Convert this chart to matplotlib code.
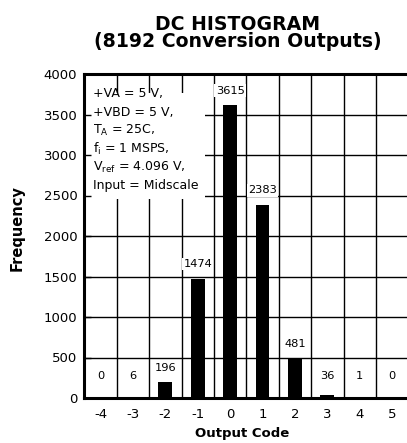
import matplotlib
matplotlib.use("Agg")
import matplotlib.pyplot as plt
from matplotlib.patches import Rectangle

codes = [-4, -3, -2, -1, 0, 1, 2, 3, 4, 5]
counts = [0, 6, 196, 1474, 3615, 2383, 481, 36, 1, 0]
yticks = [0, 500, 1000, 1500, 2000, 2500, 3000, 3500, 4000]
title_lines = ["DC HISTOGRAM", "(8192 Conversion Outputs)"]
info_lines = [
    "+VA = 5 V,",
    "+VBD = 5 V,",
    r"T$_\mathregular{A}$ = 25C,",
    r"f$_\mathregular{i}$ = 1 MSPS,",
    r"V$_\mathregular{ref}$ = 4.096 V,",
    "Input = Midscale",
]

plt.rcParams['font.family'] = ['DejaVu Sans']

fig = plt.figure(figsize=(4.07, 4.43), dpi=100)
ax = fig.add_axes([84.3 / 407, 45 / 443, 324 / 407, 324 / 443])
ax.set_xlim(codes[0] - 0.5, codes[-1] + 0.5)
ax.set_ylim(yticks[0], yticks[-1])

# grid
for y in yticks[1:-1]:
    ax.axhline(y, color='black', lw=1.0, zorder=1)
for c in codes[:-1]:
    ax.axvline(c + 0.5, color='black', lw=1.0, zorder=1)

# white box behind info text
ax.add_patch(Rectangle((0, 0.614), 0.3725, 0.327, transform=ax.transAxes,
                       facecolor='white', edgecolor='none', zorder=1.2))

ax.bar(codes, counts, width=0.43, color='black', zorder=2)

for c, v in zip(codes, counts):
    if v < 100:
        ax.text(c, 270, str(v), ha='center', va='center', fontsize=8.2, zorder=3)
    else:
        ax.annotate(str(v), (c, v), xytext=(0, 10.5), textcoords='offset points',
                    ha='center', va='center', fontsize=8.2, zorder=3,
                    bbox=dict(boxstyle='square,pad=0.12', facecolor='white', edgecolor='none'))

for i, line in enumerate(info_lines):
    ax.text(0.027, 0.9275 - i * 18.4 / 324, line, transform=ax.transAxes,
            ha='left', va='baseline', fontsize=9, zorder=3)

ax.set_xticks(codes)
ax.set_xticklabels([str(c) for c in codes])
ax.set_yticks(yticks)
ax.set_yticklabels([str(y) for y in yticks])
ax.tick_params(axis='x', length=0, pad=7, labelsize=9.5)
ax.tick_params(axis='y', direction='in', length=5, width=1, pad=5, labelsize=9.5)

for s in ['left', 'top', 'bottom']:
    ax.spines[s].set_linewidth(2.2)
ax.spines['right'].set_visible(False)

fig.text(238 / 407, 1 - 47 / 443, "\n".join(title_lines), ha='center', va='baseline',
         fontsize=13.6, fontweight='bold', linespacing=0.9, multialignment='center')
fig.text(17 / 407, 1 - 228 / 443, "Frequency", rotation=90, ha='center', va='center',
         fontsize=10.5, fontweight='bold')
fig.text(242 / 407, 1 - 433 / 443, "Output Code", ha='center', va='center',
         fontsize=9.5, fontweight='bold')

fig.savefig("out.png", dpi=100)
